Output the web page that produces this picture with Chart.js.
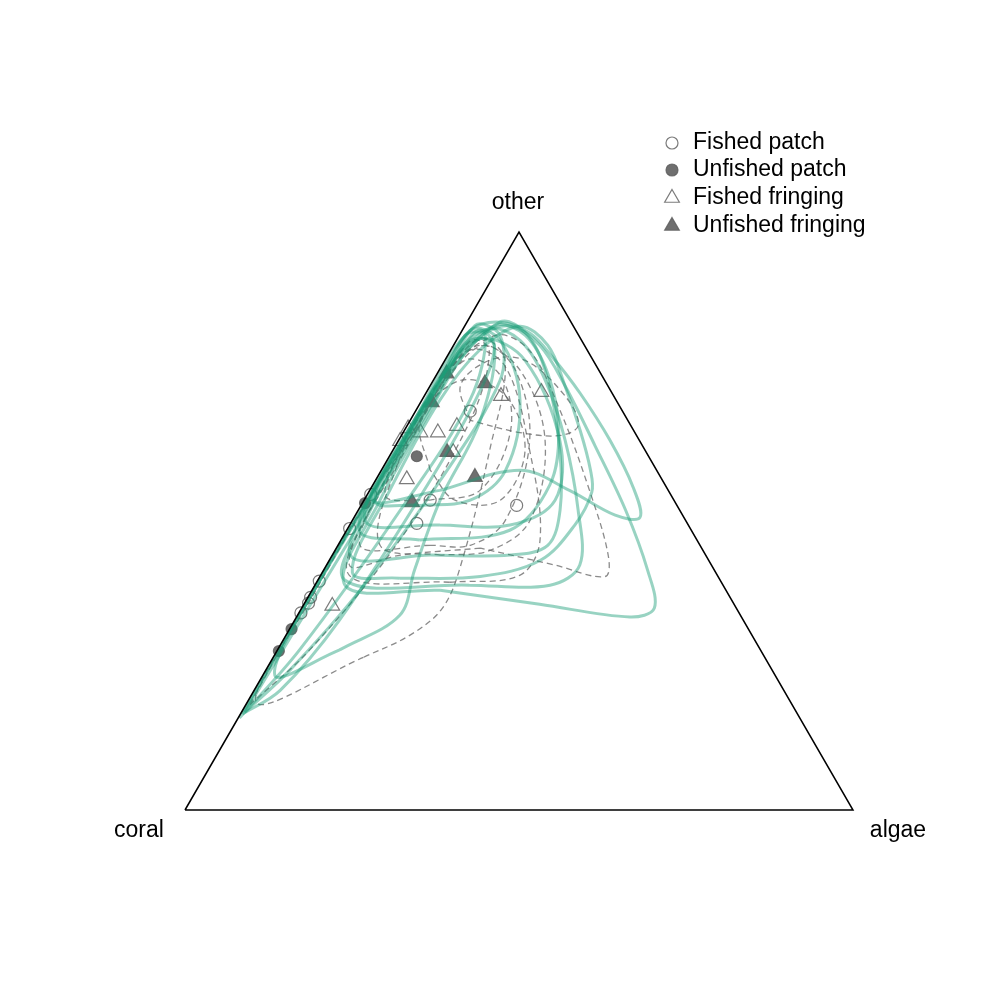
<!DOCTYPE html>
<html><head><meta charset="utf-8">
<script src="https://cdn.jsdelivr.net/npm/chart.js@4"></script>
<style>html,body{margin:0;padding:0;background:#fff}</style>
</head><body>
<canvas id="c" width="981" height="981"></canvas>
<script>
// vertex labels: [bottom-left, bottom-right, top]
const vertexLabels = ['coral', 'algae', 'other'];
const legendLabels = ['Fished patch', 'Unfished patch', 'Fished fringing', 'Unfished fringing'];

// Observations as [algae %, other %]; coral = 100 - algae - other
const fishedPatch = [[8.2,69.0],[0.5,54.6],[0.3,48.7],[9.9,53.6],[23.3,52.7],[9.9,49.6],[0.3,39.6],[0.4,36.8],[0.6,35.8],[0.3,34.1]];
const unfishedPatch = [[0.4,53.1],[4.1,61.2],[0.3,31.3],[0.3,27.5]];
const fishedFringing = [[11.5,71.6],[17.2,72.3],[7.5,66.4],[0.4,66.0],[2.6,65.3],[5.2,65.3],[0.3,63.8],[9.2,61.9],[4.6,57.2],[4.4,35.3]];
const unfishedFringing = [[1.4,75.5],[8.0,73.8],[1.7,70.5],[8.3,61.9],[14.6,57.6],[7.4,53.2]];

// Density contours (closed loops), [algae %, other %]
const greenContours = [
  [[19.2,38.0],[4.5,38.9],[2.4,53.6],[2.2,67.4],[2.2,77.8],[3.7,82.5],[7.0,83.7],[12.9,80.4],[20.1,73.5],[29.8,63.1],[40.0,51.9],[48.5,41.5],[52.8,34.9],[49.9,33.4],[35.3,35.6]],
  [[10.5,55.3],[1.2,53.6],[0.6,64.0],[0.8,76.1],[1.2,83.0],[4.9,84.4],[10.4,82.5],[15.9,78.3],[23.1,72.1],[31.6,64.0],[39.2,55.8],[42.8,50.6],[38.9,51.0],[29.9,55.3],[20.8,58.8]],
  [[12.1,40.1],[4.5,41.1],[3.0,55.3],[2.7,70.9],[4.3,79.5],[8.2,83.7],[14.1,80.4],[20.1,73.5],[26.3,65.7],[31.3,58.8],[33.4,55.0],[33.7,49.3],[31.6,43.2],[24.0,40.4]],
  [[9.3,27.7],[1.8,23.3],[0.3,39.8],[0.7,57.0],[0.8,71.7],[2.1,81.2],[6.1,80.4],[10.5,67.4],[11.4,53.6],[13.6,41.5],[15.3,33.7]],
  [[0.3,16.6],[0.3,39.8],[0.6,63.1],[1.5,77.8],[2.4,83.0],[6.1,80.4],[7.9,72.6],[8.2,57.0],[6.7,32.8],[3.9,20.7]],
  [[0.2,15.9],[0.4,42.4],[1.2,70.9],[0.9,82.1],[3.9,82.1],[7.2,70.9],[6.3,51.9],[3.3,27.7]],
  [[0.5,16.9],[1.3,46.7],[1.9,72.6],[1.5,83.8],[6.1,82.1],[10.0,74.3],[9.7,57.0],[7.2,38.0],[3.6,24.2]],
  [[11.8,46.7],[1.9,48.4],[1.0,62.2],[1.2,76.9],[4.5,83.8],[9.9,82.1],[16.8,75.2],[23.1,65.7],[26.5,56.2],[24.4,48.4]],
  [[23.1,38.9],[4.0,39.8],[1.8,51.9],[1.5,67.4],[1.3,79.5],[4.0,83.3],[9.6,81.2],[16.8,74.3],[24.9,64.0],[32.9,51.9],[37.9,42.4],[35.2,38.9]],
  [[14.7,44.1],[2.7,44.1],[1.3,58.8],[1.5,73.5],[4.9,84.4],[10.3,82.1],[17.2,74.3],[25.0,62.2],[30.2,51.9],[31.4,45.8],[26.6,44.1]],
  [[8.8,52.7],[1.6,53.6],[0.6,69.1],[1.2,83.0],[6.6,81.2],[14.7,70.9],[18.6,58.8],[15.9,53.6]],
  [[13.5,49.3],[1.9,50.1],[0.9,65.7],[1.5,77.8],[4.0,81.6],[12.0,77.8],[24.1,64.0],[28.6,53.6],[24.0,49.3]]
];
const dashedContours = [
  [[13.5,26.4],[1.5,18.5],[0.6,36.3],[0.7,57.0],[1.5,73.5],[3.3,81.6],[9.0,77.8],[14.5,62.2],[19.9,43.2],[21.1,35.1],[18.6,30.3]],
  [[21.6,45.3],[10.2,44.1],[3.4,42.4],[1.5,57.0],[1.0,74.3],[5.4,82.1],[11.8,79.5],[21.6,69.1],[32.9,55.3],[41.3,44.1],[42.7,40.4],[34.1,42.4]],
  [[9.0,67.4],[4.5,73.5],[6.7,77.8],[12.0,77.8],[21.0,71.7],[25.6,66.6],[23.8,64.8],[17.5,65.3]],
  [[13.8,45.8],[3.3,45.8],[1.9,60.5],[2.1,75.2],[4.6,80.4],[11.4,76.1],[19.6,64.0],[22.9,50.1],[19.8,45.8]],
  [[9.9,53.6],[2.7,54.5],[1.5,67.4],[3.0,77.8],[9.6,75.2],[15.9,65.7],[16.5,55.3]],
  [[19.9,39.4],[4.3,40.6],[1.6,53.6],[1.6,70.0],[2.8,79.5],[9.4,76.9],[20.5,62.2],[29.8,46.7],[29.8,40.6]],
  [[0.6,18.2],[0.1,43.2],[1.5,67.4],[2.1,81.2],[5.8,79.5],[9.0,67.4],[8.8,46.7],[4.8,27.7]],
  [[16.2,44.1],[6.3,45.8],[2.1,58.8],[1.0,74.3],[3.9,80.4],[12.1,76.1],[21.9,64.0],[26.6,50.1],[23.2,44.9]],
  [[7.3,58.8],[1.5,67.4],[4.0,74.3],[12.1,71.7],[19.8,62.2],[20.4,53.6],[13.6,53.6]]
];

const S = Math.sqrt(3) / 2;
function tern(p) { const a = p[0] / 100, o = p[1] / 100; return { x: a + o / 2, y: o * S }; }
function loop(arr) { const pts = arr.map(tern); pts.push(pts[0]); return pts; }

const datasets = [];
datasets.push({
  data: [tern([0,0]), tern([100,0]), tern([0,100]), tern([0,0])],
  showLine: true, borderColor: '#000', borderWidth: 1.5, pointRadius: 0, tension: 0, order: 0
});
greenContours.forEach(c => datasets.push({
  data: loop(c), showLine: true, borderColor: 'rgba(27,158,119,0.45)', borderWidth: 3,
  pointRadius: 0, tension: 0.35, order: 1
}));
dashedContours.forEach(c => datasets.push({
  data: loop(c), showLine: true, borderColor: 'rgba(100,100,100,0.75)', borderWidth: 1.3,
  borderDash: [6, 4], pointRadius: 0, tension: 0.35, order: 2
}));
const openCol = 'rgba(90,90,90,0.8)', fillCol = 'rgba(75,75,75,0.8)';
const markerDefs = [
  { data: fishedPatch, style: 'circle', r: 6, fill: 'rgba(0,0,0,0)' },
  { data: unfishedPatch, style: 'circle', r: 5.5, fill: fillCol },
  { data: fishedFringing, style: 'triangle', r: 8.5, fill: 'rgba(0,0,0,0)' },
  { data: unfishedFringing, style: 'triangle', r: 8.5, fill: fillCol }
];
markerDefs.forEach(m => datasets.push({
  data: m.data.map(tern), showLine: false, pointStyle: m.style, pointRadius: m.r,
  pointBackgroundColor: m.fill, pointBorderColor: openCol, pointBorderWidth: 1.2, order: 3
}));

const labelPlugin = {
  id: 'ternLabels',
  afterDraw(chart) {
    const ctx = chart.ctx;
    ctx.save();
    ctx.fillStyle = '#000';
    ctx.font = '23px "Liberation Sans", Arial, sans-serif';
    ctx.textAlign = 'center';
    ctx.textBaseline = 'middle';
    ctx.fillText(vertexLabels[0], 139, 831);
    ctx.fillText(vertexLabels[1], 898, 831);
    ctx.fillText(vertexLabels[2], 518, 203);
    // legend
    ctx.textAlign = 'left';
    const ys = [143, 170, 198, 226];
    legendLabels.forEach((t, i) => {
      const m = markerDefs[i];
      ctx.strokeStyle = openCol;
      ctx.fillStyle = m.fill;
      ctx.lineWidth = 1.2;
      Chart.helpers.drawPoint(ctx, { pointStyle: m.style, radius: m.style === 'circle' ? 6 : 8.5, borderWidth: 1.2 }, 672, ys[i]);
      ctx.fillStyle = '#000';
      ctx.fillText(t, 693, ys[i]);
    });
    ctx.restore();
  }
};

new Chart(document.getElementById('c'), {
  type: 'scatter',
  data: { datasets },
  options: {
    responsive: false, animation: false, events: [],
    layout: { padding: { left: 185, right: 128, top: 232, bottom: 171 } },
    scales: {
      x: { type: 'linear', display: false, min: 0, max: 1 },
      y: { type: 'linear', display: false, min: 0, max: S }
    },
    plugins: { legend: { display: false }, tooltip: { enabled: false } },
    elements: { line: { fill: false } },
    datasets: { scatter: { clip: false } }
  },
  plugins: [labelPlugin]
});
</script>
</body></html>
